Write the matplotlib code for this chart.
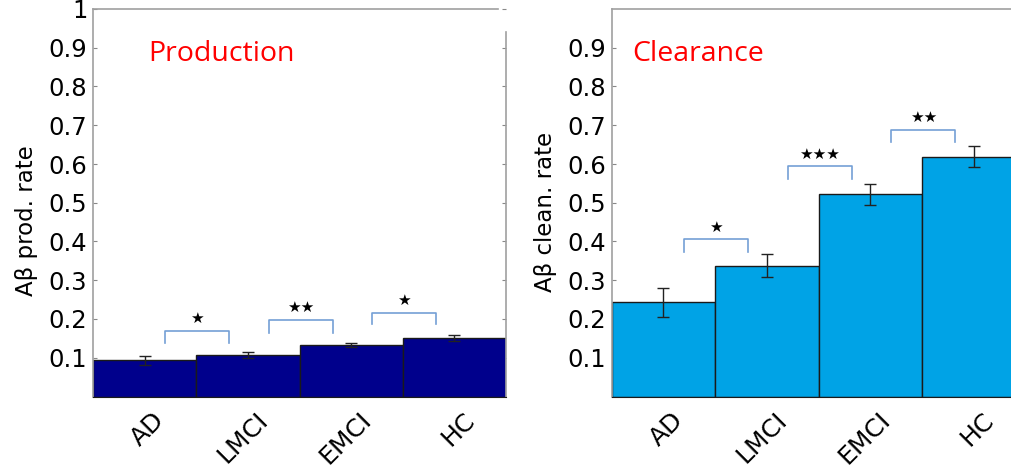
import numpy as np
import matplotlib
matplotlib.use('Agg')
import matplotlib.pyplot as plt
import matplotlib.transforms as mtransforms

groups = ['AD', 'LMCI', 'EMCI', 'HC']

prod_rate = [0.093, 0.107, 0.133, 0.150]
prod_err = [0.012, 0.008, 0.006, 0.008]
prod_sig = ['★', '★★', '★']
prod_bracket_top = [0.170, 0.198, 0.216]
prod_bracket_leg = [0.139, 0.164, 0.186]

clear_rate = [0.243, 0.338, 0.522, 0.619]
clear_err = [0.037, 0.030, 0.027, 0.027]
clear_sig = ['★', '★★★', '★★']
clear_bracket_top = [0.406, 0.594, 0.688]
clear_bracket_leg = [0.374, 0.561, 0.658]

yticks = [0.1, 0.2, 0.3, 0.4, 0.5, 0.6, 0.7, 0.8, 0.9, 1.0]
ytick_labels = ['0.1', '0.2', '0.3', '0.4', '0.5', '0.6', '0.7', '0.8', '0.9', '1']

plt.rcParams['font.family'] = ['DejaVu Sans']

fig = plt.figure(figsize=(10.11, 4.69), dpi=100, facecolor='w')


def panel(ax, vals, errs, sig, btop, bleg, color, ylabel, ylabel_y, title, title_x):
    x = np.arange(1, len(vals) + 1)
    ax.bar(x, vals, width=1.0, color=color, edgecolor='#1a1a1a', linewidth=1.0, zorder=2)
    ax.errorbar(x, vals, errs, fmt='none', ecolor='#222222', elinewidth=1.0,
                capsize=4.5, capthick=1.0, zorder=3)

    # significance brackets between neighbouring groups
    for i in range(len(sig)):
        x0 = x[i] + 0.2
        x1 = x[i] + 0.82
        ax.plot([x0, x0, x1, x1], [bleg[i], btop[i], btop[i], bleg[i]],
                color='#74a0d6', linewidth=1.2, zorder=4)
        ax.text((x0 + x1) / 2, btop[i] + 0.012, sig[i], ha='center', va='bottom',
                fontsize=11, color='black', zorder=5)

    ax.set_xlim(0.5, 4.5)
    ax.set_ylim(0, 1)
    ax.set_yticks(yticks)
    ax.set_yticklabels(ytick_labels)
    ax.tick_params(axis='y', direction='in', length=3, width=0.8, color='#888888',
                   right=True, labelsize=17.5, pad=4)
    ax.set_xticks(x)
    ax.set_xticklabels(groups, rotation=45, ha='right', rotation_mode='anchor', fontsize=18)
    ax.tick_params(axis='x', length=0, pad=8)
    offset = mtransforms.ScaledTranslation(8 / 100, 0, fig.dpi_scale_trans)
    for lab in ax.get_xticklabels():
        lab.set_transform(lab.get_transform() + offset)

    for s in ['top', 'right', 'left']:
        ax.spines[s].set_color('#a0a0a0')
        ax.spines[s].set_linewidth(1.2)
    ax.spines['bottom'].set_color('#1a1a1a')

    ax.set_ylabel(ylabel, fontsize=16.5)
    ax.yaxis.set_label_coords(-0.133, ylabel_y)
    ax.text(title_x, 0.885, title, transform=ax.transAxes, color='#ff0000',
            fontsize=20.5, family='Open Sans', ha='left', va='center')


ax1 = fig.add_axes([93 / 1011, (469 - 396.5) / 469, 413 / 1011, 387.5 / 469])
panel(ax1, prod_rate, prod_err, prod_sig, prod_bracket_top, prod_bracket_leg,
      '#00008c', 'Aβ prod. rate', 0.455, 'Production', 0.133)
ax1.spines['top'].set_bounds(0.5, 4.42)
ax1.spines['right'].set_bounds(0, 0.94)

ax2 = fig.add_axes([611.7 / 1011, (469 - 396.5) / 469, 414 / 1011, 387.5 / 469])
panel(ax2, clear_rate, clear_err, clear_sig, clear_bracket_top, clear_bracket_leg,
      '#00a3e6', 'Aβ clean. rate', 0.476, 'Clearance', 0.05)
ax2.set_yticks(yticks[:-1])
ax2.set_yticklabels(ytick_labels[:-1])

fig.savefig('out.png', dpi=100)
